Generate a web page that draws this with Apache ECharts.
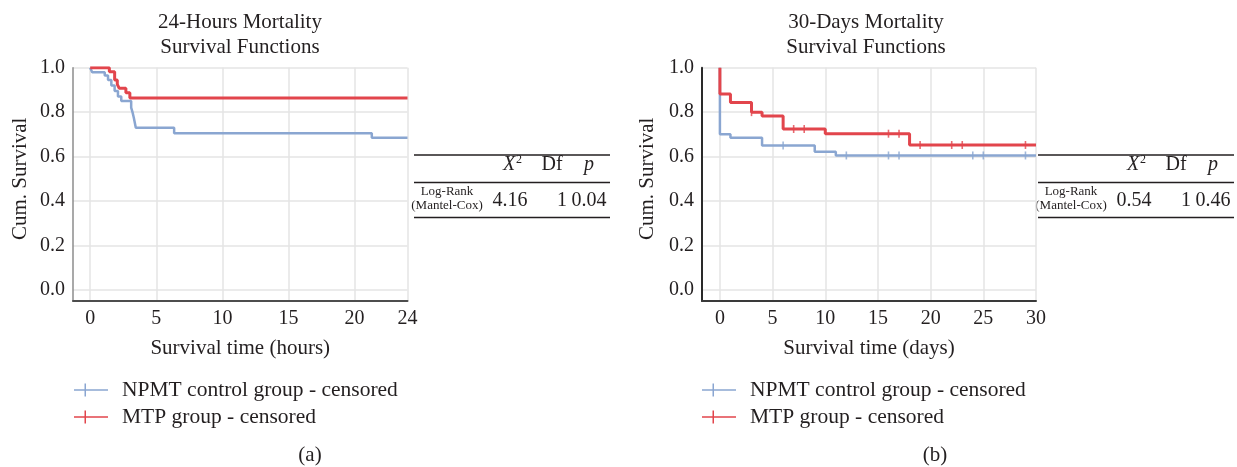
<!DOCTYPE html>
<html>
<head>
<meta charset="utf-8">
<script src="https://cdn.jsdelivr.net/npm/echarts@6/dist/echarts.min.js"></script>
<style>
  html, body { margin: 0; padding: 0; background: #fff; }
  #chart { width: 1237px; height: 467px; }
</style>
</head>
<body>
<div id="chart"></div>
<script>
  // tick values
  const hoursTicks = [0, 5, 10, 15, 20, 24]
  const daysTicks = [0, 5, 10, 15, 20, 25, 30]
  const survTicks = [0, 0.2, 0.4, 0.6, 0.8, 1.0]

  // Kaplan-Meier steps, [time, cum. survival]
  const hoursNpmt = [[0, 1], [0.15, 0.98], [1.1, 0.965], [1.35, 0.945], [1.6, 0.92], [1.85, 0.895],
    [2.1, 0.87], [2.35, 0.85], [3.1, 0.82], [3.2, 0.8], [3.3, 0.775], [3.45, 0.73],
    [6.35, 0.705], [21.3, 0.685], [24, 0.685]]
  const hoursMtp = [[0, 1], [1.45, 0.982], [1.85, 0.945], [2.05, 0.925], [2.2, 0.907],
    [2.7, 0.887], [3.0, 0.864], [24, 0.864]]
  const daysNpmt = [[0, 1], [0, 0.7], [1, 0.685], [4, 0.65], [9, 0.622], [11, 0.605], [30, 0.605]]
  const daysMtp = [[0, 1], [0, 0.882], [1, 0.843], [3, 0.8], [4, 0.783], [6, 0.724], [10, 0.703],
    [18, 0.652], [30, 0.652]]
  const daysNpmtCensored = [[6, 0.65], [12, 0.605], [16, 0.605], [17, 0.605], [24, 0.605], [25, 0.605], [29, 0.605]]
  const daysMtpCensored = [[3, 0.8], [7, 0.724], [8, 0.724], [16, 0.703], [17, 0.703], [19, 0.652],
    [22, 0.652], [23, 0.652], [29, 0.652]]

  // log-rank table values: X2, Df, p
  const hoursStats = ['4.16', '1', '0.04']
  const daysStats = ['0.54', '1', '0.46']

  const NPMT = 'NPMT control group - censored'
  const MTP = 'MTP group - censored'
  const BLUE = '#8aa6d1'
  const RED = '#e2454c'
  const TXT = '#231f20'
  const GRIDC = '#e4e4e4'
  const SERIF = '"Liberation Serif", "DejaVu Serif", serif'
  const CENSOR_ICON = 'path://M0,5.75h34v1.5h-34z M10.5,0h1.5v13h-1.5z'

  function timeAxis(gridIndex, min, max, ticks, name, color) {
    return {
      type: 'value', gridIndex, min, max,
      axisLine: {onZero: false, lineStyle: {color: color, width: 2}},
      axisTick: {show: false, customValues: ticks},
      axisLabel: {customValues: ticks, margin: 8, fontFamily: SERIF, fontSize: 20, color: TXT},
      splitLine: {show: true, lineStyle: {color: GRIDC, width: 1.5}},
      name, nameLocation: 'middle', nameGap: 37,
      nameTextStyle: {fontFamily: SERIF, fontSize: 21, color: TXT}
    }
  }

  function survAxis(gridIndex, color, width, gap) {
    return {
      type: 'value', gridIndex, min: -0.05, max: 1,
      axisLine: {show: true, onZero: false, lineStyle: {color: color, width: width}},
      axisTick: {show: false, customValues: survTicks},
      axisLabel: {customValues: survTicks, formatter: v => v.toFixed(1), margin: 8,
        fontFamily: SERIF, fontSize: 20, color: TXT},
      splitLine: {show: true, lineStyle: {color: GRIDC, width: 1.5}},
      name: 'Cum. Survival', nameLocation: 'middle', nameGap: gap,
      nameTextStyle: {fontFamily: SERIF, fontSize: 21, color: TXT, padding: [0, 0, 0, 11]}
    }
  }

  function kmLine(name, idx, data, color, width) {
    return {
      name, type: 'line', xAxisIndex: idx, yAxisIndex: idx, data, step: 'end',
      symbol: 'none', color, lineStyle: {color, width}, silent: true, animation: false
    }
  }

  function censorMarks(idx, data, color) {
    return {
      name: 'censor-' + idx + color, type: 'scatter', xAxisIndex: idx, yAxisIndex: idx, data,
      symbol: 'rect', symbolSize: [1.6, 8], itemStyle: {color}, silent: true, z: 4, animation: false
    }
  }

  function txt(x, y, text, size, extra) {
    return {type: 'text', x, y, silent: true,
      style: Object.assign({text, fontFamily: SERIF, fontSize: size, fill: TXT,
        align: 'center', verticalAlign: 'middle'}, extra || {})}
  }

  function hline(x1, x2, y) {
    return {type: 'line', silent: true, shape: {x1, y1: y, x2, y2: y}, style: {stroke: TXT, lineWidth: 1.3}}
  }

  function statsTable(x0, stats) {
    return [
      hline(x0, x0 + 196, 155), hline(x0, x0 + 196, 182.5), hline(x0, x0 + 196, 217.5),
      txt(x0 + 95, 165, 'X', 20, {fontStyle: 'italic'}),
      txt(x0 + 105, 160, '2', 12),
      txt(x0 + 138, 165, 'Df', 20),
      txt(x0 + 175, 165, 'p', 20, {fontStyle: 'italic'}),
      txt(x0 + 33, 192, 'Log-Rank', 13),
      txt(x0 + 33, 206, '(Mantel-Cox)', 13),
      txt(x0 + 96, 201, stats[0], 20),
      txt(x0 + 148, 201, stats[1], 20),
      txt(x0 + 175, 201, stats[2], 20)
    ]
  }

  const legendBase = {
    orient: 'horizontal', padding: 0, itemWidth: 34, itemHeight: 13, icon: CENSOR_ICON,
    selectedMode: false, itemStyle: {borderWidth: 0},
    textStyle: {fontFamily: SERIF, fontSize: 21.5, color: TXT, padding: [0, 0, 0, 9]}
  }

  const chart = echarts.init(document.getElementById('chart'), null, {renderer: 'canvas'})
  chart.setOption({
    animation: false,
    backgroundColor: '#fff',
    grid: [
      {left: 73, top: 67.7, width: 334.5, height: 233.3},
      {left: 702, top: 67.7, width: 334, height: 233.3}
    ],
    xAxis: [
      timeAxis(0, -1.3, 24, hoursTicks, 'Survival time (hours)', '#4d4d4d'),
      timeAxis(1, -1.7, 30, daysTicks, 'Survival time (days)', '#3a3a3a')
    ],
    yAxis: [
      survAxis(0, '#8c8c8c', 1.5, 42),
      survAxis(1, '#2a2a2a', 2, 44)
    ],
    legend: [
      Object.assign({}, legendBase, {left: 74, top: 379, data: [NPMT]}),
      Object.assign({}, legendBase, {left: 74, top: 406, data: [MTP]}),
      Object.assign({}, legendBase, {left: 702, top: 379, data: [NPMT]}),
      Object.assign({}, legendBase, {left: 702, top: 406, data: [MTP]})
    ],
    series: [
      kmLine(NPMT, 0, hoursNpmt, BLUE, 2.5),
      kmLine(MTP, 0, hoursMtp, RED, 3),
      kmLine(NPMT, 1, daysNpmt, BLUE, 2.5),
      kmLine(MTP, 1, daysMtp, RED, 3),
      censorMarks(1, daysNpmtCensored, BLUE),
      censorMarks(1, daysMtpCensored, RED)
    ],
    graphic: [
      txt(240, 22, '24-Hours Mortality', 21),
      txt(240, 47, 'Survival Functions', 21),
      txt(866, 22, '30-Days Mortality', 21),
      txt(866, 47, 'Survival Functions', 21),
      txt(310, 455, '(a)', 21),
      txt(935, 455, '(b)', 21)
    ].concat(statsTable(414, hoursStats), statsTable(1038, daysStats))
  })
</script>
</body>
</html>
